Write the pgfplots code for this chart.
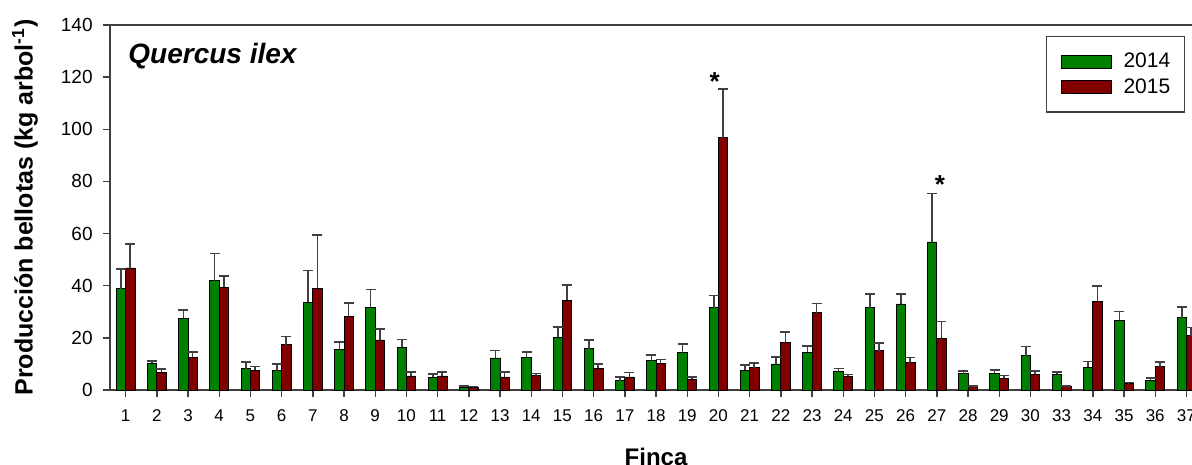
\documentclass[border=0pt]{standalone}
\usepackage{fontspec}
\setmainfont{Liberation Sans}
\setsansfont{Liberation Sans}
\usepackage{pgfplots}
\usepackage{pgfplotstable}
\pgfplotsset{compat=1.18}
\definecolor{gbar}{RGB}{0,128,0}
\definecolor{rbar}{RGB}{128,0,0}
\definecolor{axc}{RGB}{64,64,64}
\pgfplotstableread{
x g ge r re
1 38.8 7.6 46.8 9.2
2 10.3 0.9 6.9 1.1
3 27.6 3.2 12.6 2.0
4 41.9 10.4 39.4 4.4
5 8.1 2.7 7.6 1.4
6 7.4 2.5 17.4 3.1
7 33.6 12.2 39.1 20.4
8 15.6 2.7 28.2 5.1
9 31.7 6.9 19.2 4.3
10 16.4 3.0 5.4 1.4
11 4.9 1.3 5.4 1.6
12 1.0 0.5 1.0 0.3
13 12.3 2.8 5.0 1.8
14 12.6 2.0 5.5 0.8
15 20.3 3.8 34.4 5.9
16 15.8 3.4 8.3 1.6
17 3.5 1.6 5.0 1.7
18 11.2 2.3 10.1 1.6
19 14.3 3.3 4.1 0.9
20 31.5 4.8 96.7 18.7
21 7.6 1.9 8.6 1.7
22 10.0 2.7 18.3 4.0
23 14.5 2.3 29.6 3.6
24 7.3 1.0 5.3 0.7
25 31.5 5.4 15.0 3.1
26 33.0 3.9 10.5 1.9
27 56.8 18.6 19.9 6.4
28 6.2 1.1 1.3 0.2
29 6.5 1.2 4.6 1.0
30 13.2 3.5 6.0 1.2
31 6.0 0.9 1.3 0.2
32 8.8 2.2 34.0 6.0
33 26.7 3.4 2.6 0.2
34 3.7 0.8 9.0 1.8
35 27.8 4.0 20.8 3.2
}\data
\begin{document}
\begin{tikzpicture}
\begin{axis}[
  name=ax, at={(0,0)}, anchor=south west,
  scale only axis, width=546pt, height=182.5pt,
  xmin=0.5, xmax=35.5, ymin=0, ymax=140,
  xtick={1,...,35},
  xticklabels={1,2,3,4,5,6,7,8,9,10,11,12,13,14,15,16,17,18,19,20,21,22,23,24,25,26,27,28,29,30,33,34,35,36,37},
  ytick={0,20,...,140},
  xtick pos=bottom, ytick pos=left,
  tick align=outside, major tick length=3.5pt,
  tick style={axc, line width=0.7pt},
  axis line style={axc, line width=0.75pt},
  /pgf/number format/assume math mode=true,
  xticklabel style={font=\fontsize{8.5}{10}\selectfont, inner sep=0pt, yshift=-6pt},
  yticklabel style={font=\fontsize{9.5}{11}\selectfont, inner sep=0pt, xshift=-5pt},
  every axis y label/.style={at={(rel axis cs:0,0.5)}, rotate=90, anchor=center, yshift=42.5pt, font=\bfseries\fontsize{12.5}{14}\selectfont},
  every axis x label/.style={at={(rel axis cs:0.5,0)}, anchor=north, inner sep=0pt, yshift=-29pt, font=\bfseries\fontsize{12}{14}\selectfont},
  ylabel={Producción bellotas (kg arbol\textsuperscript{-1})},
  xlabel={Finca},
  legend style={at={(rel axis cs:1,1)}, anchor=north east, xshift=-8.5pt, yshift=-5.5pt,
    draw=axc, line width=0.75pt, font=\fontsize{10.5}{12}\selectfont,
    nodes={inner xsep=0pt},
    inner xsep=7pt, inner ysep=6pt, row sep=0pt, column sep=6pt},
  legend cell align=left,
]
\addplot[ybar, bar width=0.3, bar shift=-0.15, fill=gbar, draw=black, line width=0.4pt,
  legend image code/.code={\draw[fill=gbar, draw=black, line width=0.4pt] (0pt,-3.25pt) rectangle (25pt,3.25pt);}]
  table[x=x, y=g]{\data};
\addlegendentry{2014}
\addplot[ybar, bar width=0.3, bar shift=0.15, fill=rbar, draw=black, line width=0.4pt,
  legend image code/.code={\draw[fill=rbar, draw=black, line width=0.4pt] (0pt,-3.25pt) rectangle (25pt,3.25pt);}]
  table[x=x, y=r]{\data};
\addlegendentry{2015}
\addplot[draw=none, mark=none, forget plot,
  error bars/.cd, y dir=plus, y explicit, error mark=-,
  error bar style={draw=axc, solid, line width=0.8pt},
  error mark options={rotate=90, draw=axc, solid, line width=0.8pt, mark size=2.5pt}]
  table[x expr=\thisrow{x}-0.15, y=g, y error=ge]{\data};
\addplot[draw=none, mark=none, forget plot,
  error bars/.cd, y dir=plus, y explicit, error mark=-,
  error bar style={draw=axc, solid, line width=0.8pt},
  error mark options={rotate=90, draw=axc, solid, line width=0.8pt, mark size=2.5pt}]
  table[x expr=\thisrow{x}+0.15, y=r, y error=re]{\data};
\node[anchor=base, font=\bfseries\fontsize{13}{14}\selectfont, inner sep=0pt] at (axis cs:19.88,114.7) {*};
\node[anchor=base, font=\bfseries\fontsize{13}{14}\selectfont, inner sep=0pt] at (axis cs:27.1,75.2) {*};
\node[anchor=north west, font=\bfseries\itshape\fontsize{14}{16}\selectfont, inner sep=0pt] at ([xshift=9pt,yshift=-9pt]rel axis cs:0,1) {Quercus ilex};
\end{axis}
\pgfresetboundingbox
\path[use as bounding box] (-55pt,-37.5pt) rectangle (541pt,195pt);
\end{tikzpicture}
\end{document}
